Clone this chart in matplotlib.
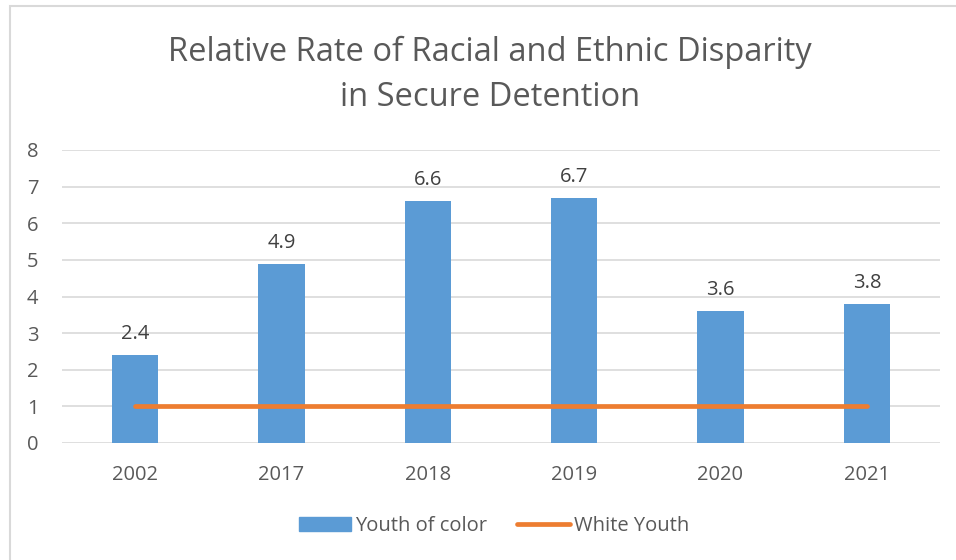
import matplotlib
matplotlib.use("Agg")
import matplotlib.pyplot as plt
from matplotlib.patches import Rectangle
from matplotlib.lines import Line2D

years = ["2002", "2017", "2018", "2019", "2020", "2021"]
youth_of_color = [2.4, 4.9, 6.6, 6.7, 3.6, 3.8]
white_youth = [1, 1, 1, 1, 1, 1]

BLUE = "#5B9BD5"
ORANGE = "#ED7D31"
TXT = "#595959"
LBL = "#404040"
GRID = "#D9D9D9"

plt.rcParams['font.family'] = ['Open Sans', 'DejaVu Sans']

fig = plt.figure(figsize=(9.56, 5.6), dpi=100)
ax = fig.add_axes([62/956, 1-443/560, (940-62)/956, (443-150)/560])

x = list(range(len(years)))
ax.bar(x, youth_of_color, width=0.315, color=BLUE, zorder=2, label="Youth of color")
ax.plot(x, white_youth, color=ORANGE, lw=3.4, solid_capstyle='round', zorder=3, label="White Youth")

for xi, v in zip(x, youth_of_color):
    ax.text(xi, v + 0.3, f"{v:g}", ha='center', va='bottom', fontsize=14.5, color=LBL)

ax.set_xlim(-0.5, len(years) - 0.5)
ax.set_ylim(0, 8)
ax.set_yticks(range(0, 9))
ax.set_xticks(x)
ax.set_xticklabels(years)
ax.tick_params(axis='both', length=0, labelsize=14.5, labelcolor=TXT)
ax.tick_params(axis='y', pad=17)
ax.tick_params(axis='x', pad=16)
ax.grid(axis='y', color=GRID, lw=1.2, zorder=0)
for s in ax.spines.values():
    s.set_visible(False)

fig.text(490/956, 1-52/560, "Relative Rate of Racial and Ethnic Disparity", ha='center', va='center', fontsize=23.5, color=TXT)
fig.text(490/956, 1-97/560, "in Secure Detention", ha='center', va='center', fontsize=23.5, color=TXT)

handles = [Rectangle((0, 0), 1, 1, color=BLUE), Line2D([0], [0], color=ORANGE, lw=3.4, solid_capstyle='round')]
fig.legend(handles, ["Youth of color", "White Youth"], loc='center', bbox_to_anchor=(494/956, 1-526/560),
           ncol=2, frameon=False, fontsize=14.5, labelcolor=TXT, handlelength=2.6, handleheight=0.7,
           handletextpad=0.2, columnspacing=1.5)

fig.add_artist(Rectangle((10/956, -0.05), 1.0, 1 - 6/560 + 0.05, transform=fig.transFigure,
                         fill=False, edgecolor="#D9D9D9", lw=1.5))

fig.savefig("out.png", dpi=100, facecolor='white')
